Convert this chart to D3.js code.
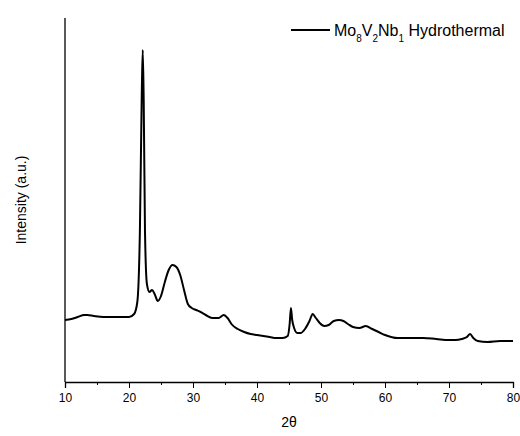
<!DOCTYPE html>
<html><head><meta charset="utf-8">
<script src="https://d3js.org/d3.v7.min.js"></script>
<style>body{margin:0;background:#fff}text{font-family:Arial,"Liberation Sans",sans-serif}</style>
</head><body><svg id="c" width="520" height="436"></svg>
<script>
// XRD pattern, values (arbitrary intensity)
var twoTheta = [10,11,12,13,13.5,14.5,16,18,20,20.8,21.3,21.7,22.0,22.15,22.3,22.5,22.8,23.2,23.6,24,24.5,25,25.6,26.2,26.8,27.4,28,28.6,29.2,29.8,30.5,31.2,32,33,34,34.8,35.4,36,37,38,39,40,41,42,43,44,44.8,45.1,45.3,45.5,45.8,46.3,46.8,47.5,48.2,48.7,49.2,49.8,50.5,51.2,52,52.8,53.5,54.2,55,56,57,58,59,60,62,64,66,68,70,71,72,72.8,73.3,73.8,74.5,76,78,80];
var intensity = [62,63,65,67,67,66,65,65,65,68,80,150,290,332,280,150,98,90,92,88,81,86,100,112,117,115,107,92,78,74,72,70,67,64,64,67,64,58,53,50,48,47,46,45,44,44,46,58,74,62,54,49,49,53,61,68,64,59,56,57,61,62,61,58,55,54,56,53,50,47,44,44,44,43,42,42,43,45,48,44,41,40,41,41];
var xTicks = [10,20,30,40,50,60,70,80];
var legendLabel = ["Mo", "8", "V", "2", "Nb", "1", " Hydrothermal"];

var svg = d3.select("#c");
var L = 65, R = 513, T = 18, B = 382;
var x = d3.scaleLinear().domain([10, 80]).range([L, R]);
var y = d3.scaleLinear().domain([0, B - T]).range([B, T]);

svg.append("g").attr("transform", "translate(0," + B + ")")
  .call(d3.axisBottom(x).tickValues(xTicks).tickSize(6).tickFormat(d3.format("d")))
  .call(g => g.select(".domain").attr("stroke-width", 1.3))
  .call(g => g.selectAll("text").attr("font-size", 12).attr("dy", "0.9em"));
svg.append("g").attr("transform", "translate(0," + B + ")")
  .call(d3.axisBottom(x).tickValues(d3.range(15, 80, 10)).tickSize(3).tickFormat(""))
  .call(g => g.select(".domain").remove());
svg.append("line").attr("x1", L).attr("x2", L).attr("y1", T).attr("y2", B)
  .attr("stroke", "#000").attr("stroke-width", 1.3);

var line = d3.line().x((d, i) => x(twoTheta[i])).y(d => y(d)).curve(d3.curveMonotoneX);
svg.append("path").datum(intensity).attr("d", line)
  .attr("fill", "none").attr("stroke", "#000").attr("stroke-width", 2);

svg.append("text").attr("x", 289).attr("y", 427).attr("text-anchor", "middle")
  .attr("font-size", 14).text("2θ");
svg.append("text").attr("transform", "translate(26,200) rotate(-90)")
  .attr("text-anchor", "middle").attr("font-size", 14).text("Intensity (a.u.)");

// legend
svg.append("line").attr("x1", 291).attr("x2", 330).attr("y1", 30).attr("y2", 30)
  .attr("stroke", "#000").attr("stroke-width", 2);
var t = svg.append("text").attr("x", 334).attr("y", 36).attr("font-size", 16);
legendLabel.forEach((s, i) => {
  var sp = t.append("tspan").text(s);
  if (i % 2 == 1 && i < 6) sp.attr("font-size", 10).attr("dy", 6);
  else if (i > 0) sp.attr("dy", -6);
});
</script></body></html>
